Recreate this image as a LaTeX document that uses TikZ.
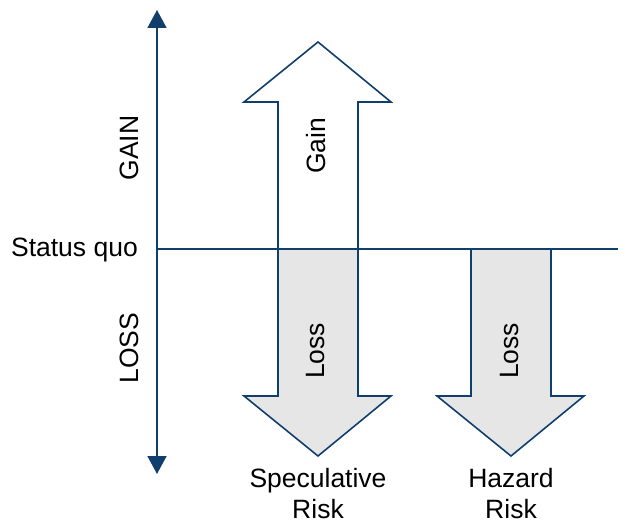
\documentclass[tikz,border=0pt]{standalone}
\usepackage{fontspec}
\setmainfont{Liberation Sans}
\usetikzlibrary{arrows.meta}
\definecolor{navy}{RGB}{16,63,110}
\definecolor{lossgray}{RGB}{230,230,230}
\tikzset{
  axisline/.style={draw=navy, line width=1.6bp},
  bigarrow/.style={draw=navy, line width=1.6bp, line join=miter},
  lbl/.style={inner sep=0pt, font=\fontsize{26.5bp}{32bp}\selectfont},
  axistip/.style={-{Triangle[width=19bp,length=18bp]}}
}
\begin{document}
\begin{tikzpicture}[x=1bp,y=-1bp]
\useasboundingbox (0,0) rectangle (618,525);
% Gain arrow (speculative, upward)
\draw[bigarrow, fill=white] (278,249) -- (278,102) -- (244,102) -- (318,42) -- (391,102) -- (358,102) -- (358,249) -- cycle;
% Loss arrow (speculative, downward)
\draw[bigarrow, fill=lossgray] (278,249) -- (278,396) -- (244,396) -- (318,456) -- (391,396) -- (358,396) -- (358,249) -- cycle;
% Loss arrow (hazard, downward)
\draw[bigarrow, fill=lossgray] (471,249) -- (471,396) -- (437,396) -- (511,456) -- (584,396) -- (551,396) -- (551,249) -- cycle;
% axes
\coordinate (axtop) at (157,10);
\coordinate (axbot) at (157,474);
\coordinate (axmid) at (157,249);
\coordinate (axright) at (618,249);
\draw[axisline, axistip] (axmid) -- (axtop);
\draw[axisline, axistip] (axmid) -- (axbot);
\draw[axisline] (axmid) -- (axright);
% labels
\node[lbl, anchor=east] (sq) at (138,250) {Status quo};
\node[lbl, rotate=90] (gainax) at (129,148) {GAIN};
\node[lbl, rotate=90] (lossax) at (129,348) {LOSS};
\node[lbl, rotate=90] (gainlbl) at (316,146) {Gain};
\node[lbl, rotate=90] (losslbl1) at (316,351) {Loss};
\node[lbl, rotate=90] (losslbl2) at (510,351) {Loss};
\node[lbl, anchor=base] (spec1) at (318,487) {Speculative};
\node[lbl, anchor=base] (spec2) at (318,518) {Risk};
\node[lbl, anchor=base] (haz1) at (511,487) {Hazard};
\node[lbl, anchor=base] (haz2) at (511,518) {Risk};
\end{tikzpicture}
\end{document}
